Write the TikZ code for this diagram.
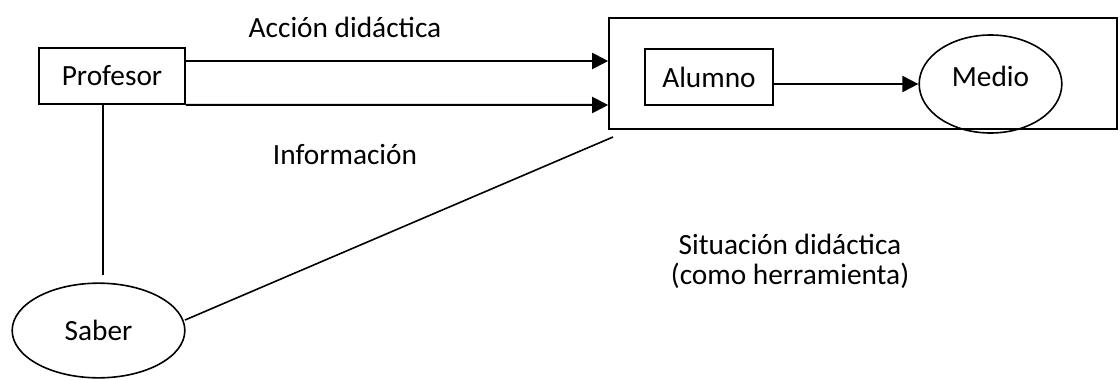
\documentclass[tikz,border=0pt]{standalone}
\usepackage{fontspec}
\setmainfont{Carlito}
\usetikzlibrary{shapes.geometric,arrows.meta}
\begin{document}
\begin{tikzpicture}[x=0.75pt,y=-0.75pt,
  every node/.style={font=\fontsize{22}{26}\selectfont},
  box/.style={draw,line width=1.2pt,inner sep=0pt},
  oval/.style={draw,ellipse,line width=1.2pt,inner sep=0pt},
  conn/.style={line width=1.2pt},
  arr/.style={line width=1.5pt,-{Triangle[length=12pt,width=12pt]}},
  lbl/.style={inner sep=0pt}]
\useasboundingbox (0,0) rectangle (1120,379);
\node[box,minimum width=109.5pt,minimum height=42pt] (prof) at (112,76) {Profesor};
\node[box,minimum width=381pt,minimum height=83pt] (sit) at (863,73.5) {};
\node[box,minimum width=96pt,minimum height=42pt] (alum) at (709,77) {Alumno};
\node[oval,minimum width=107pt,minimum height=73.5pt,text depth=12pt] (medio) at (990.5,84) {Medio};
\node[oval,minimum width=129.5pt,minimum height=71pt] (saber) at (98.5,330.5) {Saber};
\coordinate (a1) at (prof.east |- 0,61);
\coordinate (a2) at (prof.south east);
\coordinate (t1) at (sit.west |- 0,61);
\coordinate (t2) at (sit.west |- 0,105);
\draw[arr] (a1) -- (t1);
\draw[arr] (a2) -- (t2);
\draw[arr] (alum.east |- medio.west) -- (medio.west);
\coordinate (pv) at (103,275);
\draw[conn] (prof.south -| pv) -- (pv);
\coordinate (se) at (613,137);
\coordinate (sb) at (185,320);
\draw[conn] (sb) -- (se);
\node[lbl] (acc) at (345,27) {Acción didáctica};
\node[lbl] (inf) at (345,155) {Información};
\node[lbl] (sit1) at (790,244) {Situación didáctica};
\node[lbl] (sit2) at (790,276) {(como herramienta)};
\end{tikzpicture}
\end{document}
